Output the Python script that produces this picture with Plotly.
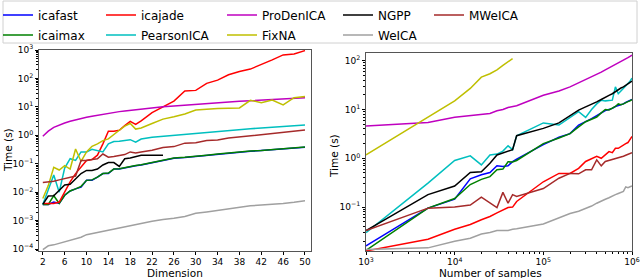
import plotly.graph_objects as go

# ---------------- Left panel: time vs dimension ----------------
dim = list(range(2, 21)) + [22, 24, 26, 28, 30, 32, 34, 36, 38, 40, 42, 44, 46, 48, 50]

icafast_L = [0.0037, 0.0037, 0.0045, 0.004, 0.0078, 0.011, 0.013, 0.015, 0.026, 0.026, 0.034, 0.045, 0.045,
             0.065, 0.065, 0.072, 0.08, 0.085, 0.09, 0.11, 0.13, 0.155, 0.165, 0.18, 0.195, 0.22, 0.24, 0.26,
             0.275, 0.29, 0.31, 0.33, 0.355, 0.38]
icaimax_L = [0.0037, 0.0037, 0.0075, 0.004, 0.0078, 0.011, 0.013, 0.016, 0.026, 0.027, 0.034, 0.045, 0.047,
             0.065, 0.066, 0.073, 0.082, 0.087, 0.092, 0.11, 0.13, 0.16, 0.17, 0.18, 0.2, 0.22, 0.24, 0.26,
             0.28, 0.29, 0.31, 0.33, 0.36, 0.39]
icajade_L = [0.004, 0.004, 0.004, 0.0045, 0.010, 0.023, 0.045, 0.08, 0.13, 0.14, 0.2, 0.5, 1.4,
             1.4, 1.5, 2.2, 3.1, 2.4, 3.2, 6.3, 10, 16, 36, 38, 67, 87, 134, 175, 213, 300, 450, 670, 730, 950]
pearson_L = [0.0037, 0.013, 0.04, 0.01, 0.07, 0.15, 0.13, 0.26, 0.26, 0.32, 0.28, 0.26, 0.5,
             0.6, 0.62, 0.64, 0.7, 0.57, 0.74, 0.85, 0.92, 1.0, 1.1, 1.2, 1.28, 1.35, 1.45, 1.65, 1.7,
             1.8, 1.9, 2.0, 2.1, 2.3]
prodenica_L = [0.92, 1.4, 1.9, 2.3, 2.7, 3.1, 3.5, 3.9, 4.3, 4.7, 5.1, 5.5, 6.0, 6.4, 6.8, 7.2, 7.6, 8.0, 8.4,
               9.2, 10.0, 10.8, 11.6, 12.4, 13.2, 14.0, 14.8, 15.6, 16.4, 17.2, 18.0, 19.0, 20.0, 21.0]
fixna_L = [0.006, 0.017, 0.075, 0.06, 0.085, 0.065, 0.33, 0.12, 0.26, 0.41, 0.5, 0.65, 0.75,
           1.1, 1.5, 2.1, 2.6, 1.65, 1.8, 2.6, 3.7, 4.5, 5.6, 7.7, 8.3, 8.7, 8.9, 9.2, 17, 14, 17.5, 11.8, 21, 23]
ngpp_dim = list(range(2, 21)) + [22, 24]
ngpp_L = [0.0037, 0.0073, 0.0075, 0.012, 0.018, 0.019, 0.03, 0.045, 0.058, 0.058, 0.065, 0.09, 0.11,
          0.11, 0.08, 0.15, 0.16, 0.18, 0.2, 0.2, 0.2]
weica_L = [0.000095, 0.00013, 0.00014, 0.00016, 0.00018, 0.0002, 0.00023, 0.00026, 0.00032, 0.00035, 0.00038,
           0.00042, 0.00047, 0.0005, 0.00055, 0.0006, 0.00069, 0.00072, 0.00078, 0.00094, 0.0011, 0.0012,
           0.0014, 0.0018, 0.002, 0.0023, 0.0026, 0.003, 0.0033, 0.0035, 0.0037, 0.004, 0.0044, 0.005]
mweica_L = [0.022, 0.023, 0.024, 0.027, 0.03, 0.033, 0.037, 0.13, 0.13, 0.14, 0.15, 0.22, 0.17,
            0.18, 0.2, 0.21, 0.26, 0.24, 0.26, 0.3, 0.37, 0.4, 0.53, 0.55, 0.65, 0.68, 0.8, 0.88, 0.95,
            1.05, 1.15, 1.25, 1.4, 1.53]

# ---------------- Right panel: time vs number of samples ----------------
nsamp = [1e3, 5e3, 1e4, 1.5e4, 2e4, 2.5e4, 3e4, 3.5e4, 4e4, 4.5e4, 5e4, 1e5, 1.5e5, 2e5, 2.5e5,
         3e5, 3.5e5, 4e5, 4.5e5, 5e5, 5.5e5, 6e5, 6.5e5, 7e5, 7.5e5, 8e5, 8.5e5, 9e5, 9.5e5, 1e6]

icafast_R = [0.016, 0.095, 0.145, 0.38, 0.46, 0.51, 0.7, 0.68, 0.7, 0.85, 0.96, 1.9, 2.7, 3.2, 4.8,
             5.6, 6.5, 7.5, 8.5, 9.5, 10.0, 10.5, 11.5, 12.0, 12.5, 13.0, 14.0, 14.5, 15.0, 16.0]
icaimax_R = [0.013, 0.095, 0.15, 0.29, 0.37, 0.42, 0.58, 0.6, 0.85, 0.84, 0.9, 2.0, 2.6, 3.2, 4.4,
             5.6, 6.3, 7.0, 8.5, 10.0, 9.8, 10.5, 11.5, 13.0, 12.5, 13.0, 14.0, 14.5, 15.0, 16.0]
icajade_R = [0.0126, 0.022, 0.035, 0.044, 0.055, 0.064, 0.076, 0.089, 0.098, 0.1, 0.13, 0.33, 0.49, 0.49, 0.62,
             0.86, 1.0, 1.1, 1.0, 1.2, 1.37, 1.3, 1.6, 1.6, 1.75, 1.9, 2.0, 2.1, 2.4, 2.8]
pearson_R = [0.030, 0.31, 0.9, 1.12, 0.73, 1.17, 1.22, 1.4, 1.8, 1.5, 2.9, 5.3, 4.8, 6.9, 9.0,
             6.9, 10.0, 13.0, 15.5, 15.0, 15.5, 15.5, 29.0, 21.0, 24.0, 27.0, 30.0, 34.0, 38.0, 44.0]
prodenica_R = [4.6, 5.4, 6.9, 7.4, 7.9, 8.3, 9.4, 10.0, 11.0, 11.5, 11.9, 19.6, 24.0, 29.0, 35.0,
               41.0, 46.0, 52.0, 58.0, 65.0, 71.0, 78.0, 84.0, 90.0, 95.0, 100.0, 107.0, 115.0, 122.0, 130.0]
fixna_n = [1e3, 5e3, 1e4, 1.5e4, 2e4, 2.5e4, 3e4, 3.5e4, 4e4, 4.5e4]
fixna_R = [1.17, 7.0, 15.0, 27.0, 46.0, 54.0, 65.0, 80.0, 93.0, 110.0]
ngpp_R = [0.033, 0.18, 0.27, 0.51, 0.53, 0.79, 1.17, 1.27, 1.37, 1.5, 2.9, 4.1, 5.3, 7.3, 9.7,
          11.3, 12.6, 14.3, 16.0, 18.0, 19.5, 21.0, 23.5, 26.0, 27.5, 29.0, 31.5, 34.0, 36.0, 38.0]
weica_R = [0.0135, 0.0146, 0.020, 0.023, 0.028, 0.030, 0.033, 0.033, 0.033, 0.035, 0.036, 0.045, 0.06, 0.074, 0.082,
           0.093, 0.105, 0.12, 0.13, 0.145, 0.155, 0.17, 0.18, 0.19, 0.2, 0.21, 0.26, 0.25, 0.26, 0.27]
mweica_R = [0.033, 0.095, 0.10, 0.11, 0.16, 0.12, 0.098, 0.2, 0.12, 0.18, 0.165, 0.24, 0.39, 0.49, 0.48,
            0.58, 0.58, 0.93, 0.70, 0.86, 0.9, 0.93, 0.97, 1.0, 1.05, 1.1, 1.15, 1.2, 1.25, 1.3]

names = ["icafast", "icaimax", "icajade", "PearsonICA", "ProDenICA", "FixNA", "NGPP", "WeICA", "MWeICA"]
colors = ["#0000ff", "#008000", "#ff0000", "#00bfbf", "#bf00bf", "#bfbf00", "#000000", "#a0a0a0", "#a52a2a"]

left_series = [(dim, icafast_L), (dim, icaimax_L), (dim, icajade_L), (dim, pearson_L), (dim, prodenica_L),
               (dim, fixna_L), (ngpp_dim, ngpp_L), (dim, weica_L), (dim, mweica_L)]
right_series = [(nsamp, icafast_R), (nsamp, icaimax_R), (nsamp, icajade_R), (nsamp, pearson_R),
                (nsamp, prodenica_R), (fixna_n, fixna_R), (nsamp, ngpp_R), (nsamp, weica_R), (nsamp, mweica_R)]

W, H = 640, 278
# legend entry placement (column-major, matplotlib style: 5 columns x 2 rows); x = text start
col_text_x = [36, 139, 260, 376, 467]
row_y = [15, 35]

fig = go.Figure()
for i, name in enumerate(names):
    xs, ys = left_series[i]
    fig.add_trace(go.Scatter(x=xs, y=ys, mode="lines", name=name, legend="legend" if i == 0 else "legend%d" % (i + 1),
                             line=dict(color=colors[i], width=1.5), xaxis="x", yaxis="y"))
for i, name in enumerate(names):
    xs, ys = right_series[i]
    fig.add_trace(go.Scatter(x=xs, y=ys, mode="lines", name=name, showlegend=False,
                             line=dict(color=colors[i], width=1.5), xaxis="x2", yaxis="y2"))

font = dict(family="DejaVu Sans", color="#000")
tickfont = dict(family="DejaVu Sans", size=9, color="#000")
titlefont = dict(family="DejaVu Sans", size=10.5, color="#000")
frame = "#555"


def sup(k):
    return "10<sup>%s</sup>" % (str(k).replace("-", "\u2212"))


axis_common = dict(showline=True, linecolor=frame, linewidth=1, mirror=True, ticks="outside",
                   tickcolor="#000", showgrid=False, zeroline=False, tickfont=tickfont,
                   automargin=False)
minor_ticks = dict(ticks="outside", ticklen=2, dtick="D1", tickcolor="#000")
bottom = 1 - 251 / H

fig.update_layout(
    template="none",
    width=W, height=H, margin=dict(l=0, r=0, t=0, b=0, autoexpand=False),
    paper_bgcolor="white", plot_bgcolor="white", font=font,
    xaxis=dict(domain=[39 / W, 311 / W], range=[1.3, 51.1], tickvals=list(range(2, 51, 4)),
               ticklen=2.5, anchor="y", **axis_common),
    yaxis=dict(domain=[bottom, 1 - 50 / H], type="log", range=[-4.07, 3.0],
               tickvals=[10.0 ** k for k in range(-4, 4)], ticktext=[sup(k) for k in range(-4, 4)],
               ticklen=3, minor=minor_ticks, anchor="x", **axis_common),
    xaxis2=dict(domain=[366 / W, 632 / W], type="log", range=[3, 6],
                tickvals=[1e3, 1e4, 1e5, 1e6], ticktext=[sup(k) for k in range(3, 7)],
                ticklen=2.5, minor=minor_ticks, anchor="y2", **axis_common),
    yaxis2=dict(domain=[bottom, 1 - 53 / H], type="log", range=[-1.9, 2.157],
                tickvals=[0.1, 1, 10, 100], ticktext=[sup(k) for k in range(-1, 3)],
                ticklen=3, minor=minor_ticks, anchor="x2", **axis_common),
    shapes=[dict(type="rect", xref="paper", yref="paper", x0=3 / W, x1=637 / W, y0=1 - 43 / H, y1=1 - 1 / H,
                 line=dict(color="#d0d0d0", width=1), fillcolor="rgba(255,255,255,0.8)", layer="below")],
    annotations=[
        dict(text="Time (s)", textangle=-90, x=8 / W, y=1 - 150 / H, xref="paper", yref="paper",
             showarrow=False, font=titlefont, xanchor="center", yanchor="middle"),
        dict(text="Time (s)", textangle=-90, x=334 / W, y=1 - 156 / H, xref="paper", yref="paper",
             showarrow=False, font=titlefont, xanchor="center", yanchor="middle"),
        dict(text="Dimension", x=175 / W, y=1 - 273 / H, xref="paper", yref="paper",
             showarrow=False, font=titlefont, xanchor="center", yanchor="middle"),
        dict(text="Number of samples", x=490 / W, y=1 - 272.5 / H, xref="paper", yref="paper",
             showarrow=False, font=titlefont, xanchor="center", yanchor="middle"),
    ],
)

for i in range(len(names)):
    key = "legend" if i == 0 else "legend%d" % (i + 1)
    tx = col_text_x[i // 2]
    ry = row_y[i % 2]
    fig.update_layout({key: dict(x=(tx - 38) / W, y=1 - ry / H, xanchor="left", yanchor="middle",
                                 orientation="v", bgcolor="rgba(0,0,0,0)", borderwidth=0,
                                 font=dict(family="DejaVu Sans", size=12, color="#000"),
                                 itemwidth=30)})

fig.write_html("out.html", config={"displayModeBar": False},
               post_script="document.body.style.margin='0';document.body.style.padding='0';")
